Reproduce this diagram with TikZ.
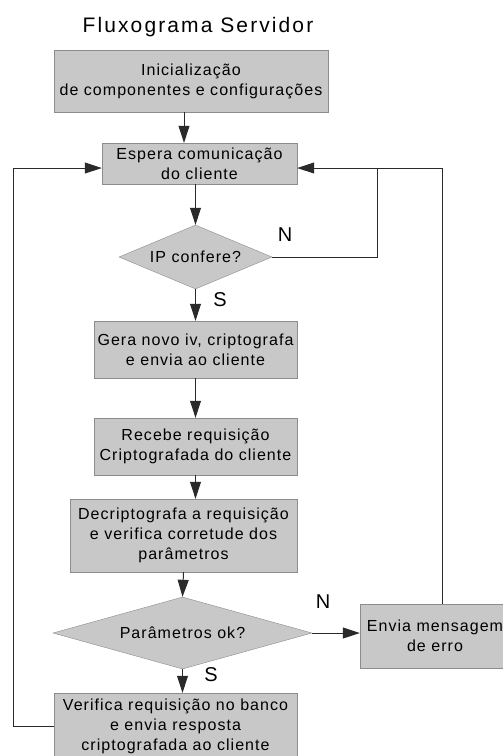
\documentclass[tikz,border=0pt]{standalone}
\usepackage{fontspec}
\setmainfont{Liberation Sans}[LetterSpace=6.5]
\usetikzlibrary{shapes.geometric,arrows.meta}
\definecolor{cinza}{HTML}{C8C8C8}
\definecolor{borda}{HTML}{8C8C8C}
\definecolor{linha}{HTML}{2A2A2A}
\tikzset{
  caixa/.style={draw=borda,fill=cinza,inner sep=0pt,align=center,font=\fontsize{16}{20}\selectfont},
  decisao/.style={diamond,draw=borda,fill=cinza,inner sep=0pt,font=\fontsize{16}{20}\selectfont},
  seta/.style={draw=linha,line width=1pt,-{Triangle[length=17pt,width=11pt]}},
  traco/.style={draw=linha,line width=1pt},
  rotulo/.style={inner sep=0pt,font=\fontsize{20}{24}\selectfont}
}
\begin{document}
\begin{tikzpicture}[x=1pt,y=-1pt]
\useasboundingbox (0,0) rectangle (503,756);
\node (titulo) at (198,27) {\fontsize{21}{24}\selectfont\addfontfeature{LetterSpace=10}Fluxograma Servidor};
\node[caixa,minimum width=274pt,minimum height=62pt] (ini) at (191,81) {Inicialização\\de componentes e configurações};
\node[caixa,minimum width=195pt,minimum height=41pt] (espera) at (199.5,163.5) {Espera comunicação\\do cliente};
\node[decisao,aspect=2.4,minimum width=153pt,minimum height=64pt] (ip) at (195.5,257) {IP confere?};
\node[caixa,minimum width=203pt,minimum height=57pt] (gera) at (195.5,349.5) {Gera novo iv, criptografa\\e envia ao cliente};
\node[caixa,minimum width=203pt,minimum height=57pt] (recebe) at (195.5,446.5) {Recebe requisição\\Criptografada do cliente};
\node[caixa,minimum width=227pt,minimum height=73pt] (decr) at (183.5,535.5) {Decriptografa a requisição\\e verifica corretude dos\\parâmetros};
\node[decisao,aspect=3.6,minimum width=259pt,minimum height=72pt] (param) at (182.5,633) {Parâmetros ok?};
\node[caixa,minimum width=150pt,minimum height=64pt] (envia) at (435,636) {Envia mensagem\\de erro};
\node[caixa,minimum width=243pt,minimum height=66pt] (verif) at (175.5,726) {Verifica requisição no banco\\e envia resposta\\criptografada ao cliente};
\node[rotulo] (n1) at (285,235) {N};
\node[rotulo] (s1) at (220,300) {S};
\node[rotulo] (n2) at (323,602) {N};
\node[rotulo] (s2) at (211,675) {S};
\coordinate (kIP) at (377,168);
\coordinate (kEnv) at (442,168);
\coordinate (kVer) at (13,168);
\draw[seta] ([xshift=-7pt]ini.south) -- ([xshift=-7pt]ini.south |- espera.north);
\draw[seta] (espera.south -| ip.north) -- (ip.north);
\draw[seta] (ip.south) -- (ip.south |- gera.north);
\draw[seta] (gera.south) -- (recebe.north);
\draw[seta] (recebe.south) -- (recebe.south |- decr.north);
\draw[seta] (decr.south) -- (param.north);
\draw[seta] (param.east) -- (param.east -| envia.west);
\draw[seta] (param.south) -- (param.south |- verif.north);
\draw[traco] (ip.east) -| (kIP);
\draw[seta] (envia.north -| kEnv) -- (kEnv) -- (espera.east |- kEnv);
\draw[seta] (verif.west) -| (kVer) -- (espera.west |- kVer);
\end{tikzpicture}
\end{document}
